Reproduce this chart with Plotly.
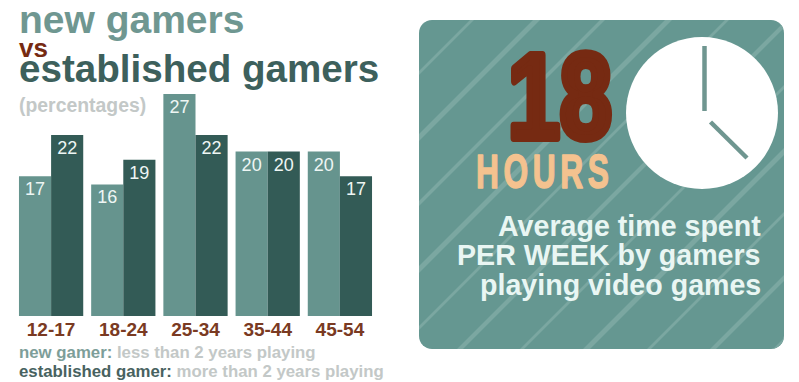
import math
import plotly.graph_objects as go

W, H = 799, 382

# Survey shares by age band
age_groups = ["12-17", "18-24", "25-34", "35-44", "45-54"]
new_gamers = [17, 16, 27, 20, 20]
established_gamers = [22, 19, 22, 20, 17]

# Colours
LIGHT_TEAL = "#66948e"
DARK_TEAL = "#335b56"
PANEL = "#659791"
STRIPE = "#7ba7a1"
RUST = "#762a12"
SAND = "#f4c28f"
GREY = "#c3c8c7"
SANS = "Liberation Sans"


def px(x):
    return x / W


def py(y):
    return 1 - y / H


def path_from(points):
    return "M " + " L ".join(f"{px(x):.5f},{py(y):.5f}" for x, y in points) + " Z"


def rounded_rect(x0, y0, x1, y1, r, steps=8):
    """Polygon outline of a rounded rectangle, clockwise on screen."""
    corners = [(x1 - r, y0 + r, -90), (x1 - r, y1 - r, 0), (x0 + r, y1 - r, 90), (x0 + r, y0 + r, 180)]
    pts = []
    for cx, cy, start in corners:
        for i in range(steps + 1):
            a = math.radians(start + 90 * i / steps)
            pts.append((cx + r * math.cos(a), cy + r * math.sin(a)))
    return pts


def clip(subject, window):
    """Sutherland-Hodgman clipping of a polygon by a convex clockwise window."""
    def inside(p, a, b):
        return (b[0] - a[0]) * (p[1] - a[1]) - (b[1] - a[1]) * (p[0] - a[0]) >= 0

    def cross(p, q, a, b):
        d1 = (q[0] - p[0], q[1] - p[1])
        d2 = (b[0] - a[0], b[1] - a[1])
        den = d1[0] * d2[1] - d1[1] * d2[0]
        t = ((a[0] - p[0]) * d2[1] - (a[1] - p[1]) * d2[0]) / den
        return (p[0] + t * d1[0], p[1] + t * d1[1])

    out = subject
    for i, a in enumerate(window):
        b = window[(i + 1) % len(window)]
        src, out = out, []
        for j, p in enumerate(src):
            q = src[(j + 1) % len(src)]
            if inside(p, a, b):
                out.append(p)
                if not inside(q, a, b):
                    out.append(cross(p, q, a, b))
            elif inside(q, a, b):
                out.append(cross(p, q, a, b))
        if not out:
            break
    return out


panel = rounded_rect(419, 20, 784, 349, 13)

# Diagonal stripes across the panel: (x + y offset, band width)
stripes = [(490, 4), (553, 7), (620, 5), (685, 7), (745, 4), (806, 6),
           (869, 4), (932, 7), (996, 4), (1059, 6), (1122, 4)]

shapes = [dict(type="path", xref="paper", yref="paper", layer="below",
               path=path_from(panel), fillcolor=PANEL, line_width=0)]
for c, w in stripes:
    band = [(c - 500, 500), (c - 500 + w, 500), (c + w + 100, -100), (c + 100, -100)]
    clipped = clip(band, panel)
    if clipped:
        shapes.append(dict(type="path", xref="paper", yref="paper", layer="below",
                           path=path_from(clipped), fillcolor=STRIPE, line_width=0))

# Clock face and hands
shapes.append(dict(type="circle", xref="paper", yref="paper", layer="below",
                   x0=px(626), x1=px(778), y0=py(37), y1=py(189),
                   fillcolor="white", line_width=0))
for x0, y0, x1, y1 in [(704.5, 46, 704.5, 111), (710.5, 122, 747, 158)]:
    shapes.append(dict(type="line", xref="paper", yref="paper", layer="below",
                       x0=px(x0), y0=py(y0), x1=px(x1), y1=py(y1),
                       line=dict(color="#6f9690", width=4.5)))


def label(x, y, text, size, color, anchor="left", **kw):
    return dict(xref="paper", yref="paper", x=px(x), y=py(y), text=text, showarrow=False,
                xanchor=anchor, yanchor="middle", align=anchor,
                font=dict(family=SANS, size=size, color=color, **kw))


annotations = [
    label(17, 20, "<b>new gamers</b>", 39, "#6f9791"),
    label(17, 48, "<b>vs</b>", 26, RUST),
    label(17, 68.5, "<b>established gamers</b>", 38.6, "#3d605c"),
    label(17, 105, "<b>(percentages)</b>", 19.4, GREY),
    label(17, 352, '<b><span style="color:#7d9e99">new gamer:</span> less than 2 years playing</b>', 16.8, GREY),
    label(17, 371, '<b><span style="color:#48625f">established gamer:</span> more than 2 years playing</b>', 16.8, GREY),
    label(559.5, 96, "<b>18</b>", 120, RUST, anchor="center"),
    label(544.5, 172, "<b>HOURS</b>", 48, SAND, anchor="center"),
    label(763, 226, "<b>Average time spent</b>", 28.6, "#e9f6f3", anchor="right"),
    label(763, 255, "<b>PER WEEK by gamers</b>", 28.6, "#e9f6f3", anchor="right"),
    label(763, 285, "<b>playing video games</b>", 28.6, "#e9f6f3", anchor="right"),
]

fig = go.Figure()
for name, values, color in [("new gamer", new_gamers, LIGHT_TEAL),
                            ("established gamer", established_gamers, DARK_TEAL)]:
    fig.add_bar(name=name, x=age_groups, y=values, marker=dict(color=color, line_width=0),
                text=values, textposition="inside", insidetextanchor="end",
                textangle=0, constraintext="none",
                textfont=dict(family=SANS, size=18, color="#eef6f4"))

fig.update_layout(
    width=W, height=H, margin=dict(l=0, r=0, t=0, b=0), autosize=False,
    paper_bgcolor="white", plot_bgcolor="white", showlegend=False,
    barmode="group", bargap=0.11, bargroupgap=0,
    shapes=shapes, annotations=annotations,
    xaxis=dict(domain=[px(15), px(376)], anchor="y", type="category",
               showgrid=False, showline=False, zeroline=False, ticks="",
               tickfont=dict(family=SANS, size=19, color="#7a3a22", weight="bold")),
    yaxis=dict(domain=[py(316), py(94)], range=[0, 27], visible=False),
)

# Condense the big display lettering, which is set in a poster-style narrow face
condense = """
var styles = {'18': {sx: 0.78, stroke: 8, track: 0}, 'HOURS': {sx: 0.66, stroke: 1.5, track: 7}};
document.querySelectorAll('.annotation-text').forEach(function (t) {
  var s = styles[t.textContent];
  if (!s) return;
  t.style.letterSpacing = s.track + 'px';
  var b = t.getBBox(), cx = b.x + b.width / 2;
  t.setAttribute('transform', 'translate(' + cx + ',0) scale(' + s.sx + ',1) translate(' + (-cx) + ',0)');
  t.style.stroke = t.style.fill;
  t.style.strokeWidth = s.stroke + 'px';
  t.style.strokeLinejoin = 'round';
});
"""

fig.write_html("out.html", post_script=condense)
